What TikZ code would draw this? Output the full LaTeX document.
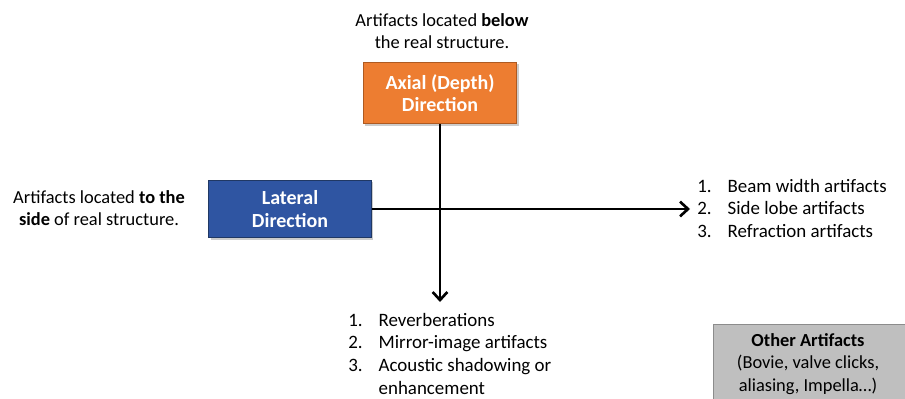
\documentclass[tikz,border=0pt]{standalone}
\usepackage{fontspec}
\setmainfont{Carlito}
\usetikzlibrary{arrows.meta, positioning, shadows}
\definecolor{axialorange}{RGB}{237, 125, 49}
\definecolor{axialborder}{RGB}{174, 90, 33}
\definecolor{lateralblue}{RGB}{47, 85, 162}
\definecolor{lateralborder}{RGB}{32, 56, 100}
\definecolor{othergray}{RGB}{191, 191, 191}
\definecolor{othergrayborder}{RGB}{140, 140, 140}

\begin{document}
\begin{tikzpicture}[
    x=0.75pt, y=-0.75pt,
    direction/.style={rectangle, draw, line width=1pt, text=white, font=\fontsize{15}{17}\selectfont\bfseries, align=center, drop shadow={shadow xshift=1.5pt, shadow yshift=-1.5pt, opacity=0.4}},
    note/.style={font=\fontsize{13.8}{16.8}\selectfont, align=center, inner sep=0pt},
    itemlist/.style={font=\fontsize{14.2}{17}\selectfont, align=left, inner sep=0pt, anchor=north west},
    arrow/.style={-{Straight Barb[length=6pt, width=11pt, line width=2pt]}, line width=2pt, black}
]
    \useasboundingbox (0,0) rectangle (905,399);

    % Direction boxes
    \node[direction, fill=axialorange, draw=axialborder, minimum width=115pt, minimum height=46pt] (axial) at (440,93) {Axial (Depth)\\Direction};
    \node[direction, fill=lateralblue, draw=lateralborder, minimum width=122pt, minimum height=43pt] (lateral) at (290,209) {Lateral\\Direction};

    % Notes
    \node[note] (axialnote) at (442,31) {Artifacts located \textbf{below}\\the real structure.};
    \node[note] (lateralnote) at (99,208) {Artifacts located \textbf{to the}\\\textbf{side} of real structure.};

    % Arrow ends
    \coordinate (lateralend) at (690,209);
    \coordinate (axialend) at (440,302);
    \draw[arrow] (lateral.east) -- (lateralend);
    \draw[arrow] (axial.south) -- (axialend);

    % Lists
    \node[itemlist] (laterallist) at (697,176) {%
      \begin{tabular}{@{}l@{\hspace{12pt}}l@{}}
      1. & Beam width artifacts\\
      2. & Side lobe artifacts\\
      3. & Refraction artifacts
      \end{tabular}};
    \node[itemlist] (axiallist) at (348,310) {%
      \begin{tabular}{@{}l@{\hspace{12pt}}l@{}}
      1. & Reverberations\\
      2. & Mirror-image artifacts\\
      3. & Acoustic shadowing or\\
         & enhancement
      \end{tabular}};

    % Other artifacts
    \node[rectangle, draw=othergrayborder, fill=othergray, minimum width=146pt, minimum height=60pt, anchor=north west, inner sep=0pt] (otherbox) at (713,324) {};
    \node[note] (othertext) at (808,364) {\textbf{Other Artifacts}\\(Bovie, valve clicks,\\aliasing, Impella\dots)};
\end{tikzpicture}
\end{document}
